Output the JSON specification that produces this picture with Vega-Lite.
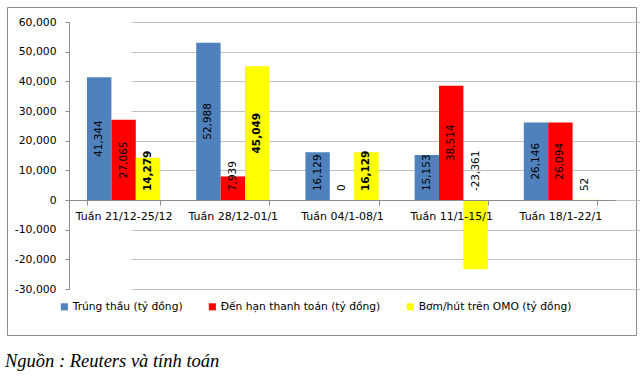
{
  "$schema": "https://vega.github.io/schema/vega-lite/v6.json",
  "width": 629,
  "height": 328,
  "autosize": {"type": "none"},
  "padding": {"left": 7, "top": 7, "right": 4, "bottom": 42},
  "config": {
    "view": {"stroke": "#8c8c8c", "strokeWidth": 1},
    "font": "DejaVu Sans",
    "locale": {"number": {"decimal": ".", "thousands": ",", "grouping": [3], "currency": ["$", ""], "minus": "-"}},
    "axisY": {
      "title": null,
      "offset": -62,
      "values": [-30000, -20000, -10000, 0, 10000, 20000, 30000, 40000, 50000, 60000],
      "format": ",d",
      "labelOverlap": false,
      "labelFontSize": 10.8,
      "labelColor": "#000000",
      "labelPadding": 9,
      "tickSize": 4,
      "tickColor": "#8c8c8c",
      "domainColor": "#8c8c8c",
      "gridColor": "#c0c0c0",
      "gridWidth": 1,
      "grid": true
    }
  },
  "title": {
    "text": "Nguồn : Reuters và tính toán",
    "orient": "bottom",
    "anchor": "start",
    "frame": "group",
    "font": "Liberation Serif",
    "fontStyle": "italic",
    "fontWeight": "normal",
    "fontSize": 18.5,
    "color": "#000000",
    "offset": 17,
    "dx": -2
  },
  "data": {
    "values": [
      {"week": "Tuần 21/12-25/12", "series": "Trúng thầu (tỷ đồng)", "value": 41344},
      {"week": "Tuần 21/12-25/12", "series": "Đến hạn thanh toán (tỷ đồng)", "value": 27065},
      {"week": "Tuần 21/12-25/12", "series": "Bơm/hút trên OMO (tỷ đồng)", "value": 14279},
      {"week": "Tuần 28/12-01/1", "series": "Trúng thầu (tỷ đồng)", "value": 52988},
      {"week": "Tuần 28/12-01/1", "series": "Đến hạn thanh toán (tỷ đồng)", "value": 7939},
      {"week": "Tuần 28/12-01/1", "series": "Bơm/hút trên OMO (tỷ đồng)", "value": 45049},
      {"week": "Tuần 04/1-08/1", "series": "Trúng thầu (tỷ đồng)", "value": 16129},
      {"week": "Tuần 04/1-08/1", "series": "Đến hạn thanh toán (tỷ đồng)", "value": 0},
      {"week": "Tuần 04/1-08/1", "series": "Bơm/hút trên OMO (tỷ đồng)", "value": 16129},
      {"week": "Tuần 11/1-15/1", "series": "Trúng thầu (tỷ đồng)", "value": 15153},
      {"week": "Tuần 11/1-15/1", "series": "Đến hạn thanh toán (tỷ đồng)", "value": 38514},
      {"week": "Tuần 11/1-15/1", "series": "Bơm/hút trên OMO (tỷ đồng)", "value": -23361},
      {"week": "Tuần 18/1-22/1", "series": "Trúng thầu (tỷ đồng)", "value": 26146},
      {"week": "Tuần 18/1-22/1", "series": "Đến hạn thanh toán (tỷ đồng)", "value": 26094},
      {"week": "Tuần 18/1-22/1", "series": "Bơm/hút trên OMO (tỷ đồng)", "value": 52}
    ]
  },
  "transform": [
    {"calculate": "datum.value / 2", "as": "mid"},
    {"calculate": "datum.series == 'Bơm/hút trên OMO (tỷ đồng)' && datum.value > 10000", "as": "bold"}
  ],
  "encoding": {
    "x": {
      "field": "week",
      "type": "nominal",
      "sort": ["Tuần 21/12-25/12", "Tuần 28/12-01/1", "Tuần 04/1-08/1", "Tuần 11/1-15/1", "Tuần 18/1-22/1"],
      "scale": {"range": [62, 608], "paddingInner": 0.33, "paddingOuter": 0.165},
      "axis": {
        "title": null,
        "offset": -135,
        "zindex": 1,
        "labelAngle": 0,
        "labelFontSize": 11,
        "labelColor": "#000000",
        "labelPadding": 5,
        "domainColor": "#8c8c8c",
        "tickColor": "#8c8c8c",
        "tickSize": 5,
        "tickBand": "extent",
        "grid": false
      }
    },
    "xOffset": {
      "field": "series",
      "type": "nominal",
      "sort": ["Trúng thầu (tỷ đồng)", "Đến hạn thanh toán (tỷ đồng)", "Bơm/hút trên OMO (tỷ đồng)"]
    }
  },
  "layer": [
    {
      "mark": {"type": "bar"},
      "encoding": {
        "y": {
          "field": "value",
          "type": "quantitative",
          "title": null,
          "scale": {"domain": [-30000, 60000], "range": [282, 15], "nice": false}
        },
        "color": {
          "field": "series",
          "type": "nominal",
          "sort": ["Trúng thầu (tỷ đồng)", "Đến hạn thanh toán (tỷ đồng)", "Bơm/hút trên OMO (tỷ đồng)"],
          "scale": {
            "domain": ["Trúng thầu (tỷ đồng)", "Đến hạn thanh toán (tỷ đồng)", "Bơm/hút trên OMO (tỷ đồng)"],
            "range": ["#4f81bd", "#ff0000", "#ffff00"]
          },
          "legend": {
            "title": null,
            "orient": "none",
            "legendX": 52,
            "legendY": 294,
            "direction": "horizontal",
            "columns": 3,
            "columnPadding": 24,
            "symbolType": "square",
            "symbolSize": 50,
            "symbolStrokeWidth": 0,
            "labelFontSize": 10.7,
            "labelLimit": 400,
            "labelColor": "#000000",
            "labelOffset": 3
          }
        }
      }
    },
    {
      "transform": [{"filter": "datum.value >= 20000 && !datum.bold"}],
      "mark": {"type": "text", "angle": 270, "align": "center", "baseline": "middle", "fontSize": 10.5, "color": "#000000"},
      "encoding": {
        "y": {"field": "mid", "type": "quantitative", "title": null},
        "text": {"field": "value", "type": "quantitative", "format": ",d"}
      }
    },
    {
      "transform": [{"filter": "datum.value >= 20000 && datum.bold"}],
      "mark": {"type": "text", "angle": 270, "align": "center", "baseline": "middle", "fontSize": 10.5, "fontWeight": "bold", "color": "#000000"},
      "encoding": {
        "y": {"field": "mid", "type": "quantitative", "title": null},
        "text": {"field": "value", "type": "quantitative", "format": ",d"}
      }
    },
    {
      "transform": [{"filter": "datum.value < 20000 && !datum.bold"}],
      "mark": {"type": "text", "angle": 270, "align": "left", "baseline": "middle", "fontSize": 10.5, "color": "#000000"},
      "encoding": {
        "y": {"datum": 3000, "type": "quantitative", "title": null},
        "text": {"field": "value", "type": "quantitative", "format": ",d"}
      }
    },
    {
      "transform": [{"filter": "datum.value < 20000 && datum.bold"}],
      "mark": {"type": "text", "angle": 270, "align": "left", "baseline": "middle", "fontSize": 10.5, "fontWeight": "bold", "color": "#000000"},
      "encoding": {
        "y": {"datum": 3000, "type": "quantitative", "title": null},
        "text": {"field": "value", "type": "quantitative", "format": ",d"}
      }
    }
  ]
}
